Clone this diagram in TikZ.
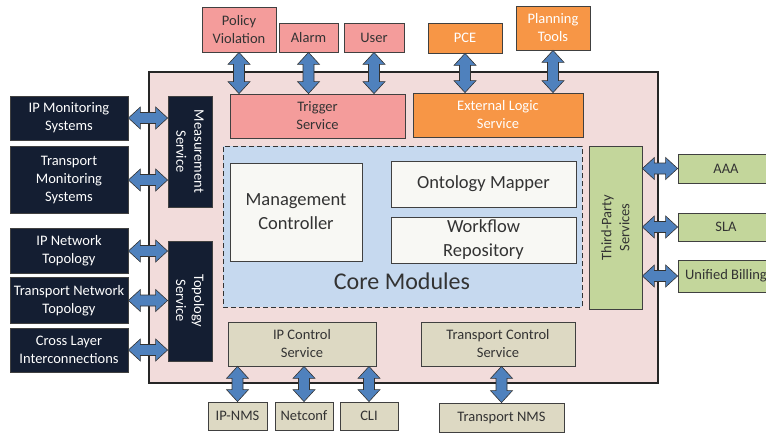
\documentclass[tikz,border=0pt]{standalone}
\usepackage{fontspec}
\setmainfont{Carlito}
\usetikzlibrary{calc}

\definecolor{framepink}{HTML}{F2DCDB}
\definecolor{trigpink}{HTML}{F49C9B}
\definecolor{extorange}{HTML}{F79646}
\definecolor{navy}{HTML}{141E32}
\definecolor{coreblue}{HTML}{C6D9EF}
\definecolor{modwhite}{HTML}{F8F8F4}
\definecolor{tpgreen}{HTML}{C3D69B}
\definecolor{ctltan}{HTML}{DDD9C3}
\definecolor{linkblue}{HTML}{4F81BD}

\newcommand{\vlink}[2]{%
  \draw[link] let \p1=(#1), \p2=(#2) in
    (\x1,\y1) -- (\x1+11pt,\y1-12pt) -- (\x1+5.5pt,\y1-12pt) -- (\x1+5.5pt,\y2+12pt)
    -- (\x1+11pt,\y2+12pt) -- (\x1,\y2) -- (\x1-11pt,\y2+12pt) -- (\x1-5.5pt,\y2+12pt)
    -- (\x1-5.5pt,\y1-12pt) -- (\x1-11pt,\y1-12pt) -- cycle;}
\newcommand{\hlink}[2]{%
  \draw[link] let \p1=(#1), \p2=(#2) in
    (\x1,\y1) -- (\x1+12pt,\y1+11pt) -- (\x1+12pt,\y1+5.5pt) -- (\x2-12pt,\y1+5.5pt)
    -- (\x2-12pt,\y1+11pt) -- (\x2,\y1) -- (\x2-12pt,\y1-11pt) -- (\x2-12pt,\y1-5.5pt)
    -- (\x1+12pt,\y1-5.5pt) -- (\x1+12pt,\y1-11pt) -- cycle;}

\begin{document}
\begin{tikzpicture}[x=1pt,y=-1pt,
  box/.style={draw=black!75,line width=.8pt,align=center,inner sep=1pt,
    font=\fontsize{14.5}{18}\selectfont},
  pinkbox/.style={box,fill=trigpink,text=black!80},
  orangebox/.style={box,fill=extorange,text=white},
  navybox/.style={box,fill=navy,text=white},
  modbox/.style={box,fill=modwhite,text=black!80,font=\fontsize{18.5}{24}\selectfont},
  greenbox/.style={box,fill=tpgreen,text=black!80},
  tanbox/.style={box,fill=ctltan,text=black!80},
  link/.style={fill=linkblue,draw=black!80,line width=.6pt,line join=miter}]

\useasboundingbox (0,0) rectangle (766,436);
\clip (0,0) rectangle (766,436);

\node[draw=black!85,line width=1.6pt,fill=framepink,minimum width=509,minimum height=311] (main) at (403.5,227.5) {};
\node[draw=black!80,line width=1pt,dashed,dash pattern=on 5pt off 3pt,fill=coreblue,minimum width=359,minimum height=161] (core) at (402.5,226.5) {};
\node[text=black!80,font=\fontsize{24}{28}\selectfont] (corelbl) at (402,281) {Core Modules};

% top
\node[pinkbox,minimum width=74,minimum height=45] (pv) at (239,29.5) {Policy\\Violation};
\node[pinkbox,minimum width=59,minimum height=29] (alarm) at (308.5,37.5) {Alarm};
\node[pinkbox,minimum width=60,minimum height=29] (user) at (374,37.5) {User};
\node[orangebox,minimum width=74,minimum height=30] (pce) at (465,38) {PCE};
\node[orangebox,minimum width=74,minimum height=44] (plan) at (553,28) {Planning\\Tools};
\node[pinkbox,minimum width=175,minimum height=44] (trig) at (317.5,116) {Trigger\\Service};
\node[orangebox,minimum width=170,minimum height=44] (ext) at (498,115) {External Logic\\Service};

% left
\node[navybox,minimum width=118,minimum height=44] (ipmon) at (69,118) {IP Monitoring\\Systems};
\node[navybox,minimum width=118,minimum height=67] (tmon) at (69,180) {Transport\\Monitoring\\Systems};
\node[navybox,minimum width=118,minimum height=45] (ipnet) at (69,251) {IP Network\\Topology};
\node[navybox,minimum width=118,minimum height=46] (tnet) at (69,300.5) {Transport Network\\Topology};
\node[navybox,minimum width=118,minimum height=44] (cross) at (69,350) {Cross Layer\\Interconnections};
\node[navybox,rotate=-90,minimum width=111,minimum height=44] (meas) at (190,151.5) {Measurement\\Service};
\node[navybox,rotate=-90,minimum width=120,minimum height=44] (topo) at (190,301) {Topology\\Service};

% core modules
\node[modbox,minimum width=132,minimum height=98] (mc) at (296,212) {Management\\Controller};
\node[modbox,minimum width=185,minimum height=46] (onto) at (483.5,184) {Ontology Mapper};
\node[modbox,minimum width=185,minimum height=46] (wf) at (483.5,240) {Workflow\\Repository};

% right
\node[greenbox,rotate=90,minimum width=163,minimum height=53] (third) at (615.5,227.5) {Third-Party\\Services};
\node[greenbox,minimum width=96,minimum height=29] (aaa) at (726,168.5) {AAA};
\node[greenbox,minimum width=96,minimum height=28] (sla) at (726,227) {SLA};
\node[greenbox,minimum width=96,minimum height=32] (bill) at (726,276) {Unified Billing};

% bottom
\node[tanbox,minimum width=148,minimum height=44] (ipc) at (302,344) {IP Control\\Service};
\node[tanbox,minimum width=154,minimum height=44] (tpc) at (498,344) {Transport Control\\Service};
\node[tanbox,minimum width=59,minimum height=28] (ipnms) at (237.5,416) {IP-NMS};
\node[tanbox,minimum width=58,minimum height=28] (netconf) at (304,416) {Netconf};
\node[tanbox,minimum width=58,minimum height=28] (cli) at (369,416) {CLI};
\node[tanbox,minimum width=125,minimum height=29] (tnms) at (501.5,417.5) {Transport NMS};

\foreach \a/\b in {pv/trig,alarm/trig,user/trig,pce/ext,plan/ext}
{\vlink{\a.south}{\a.south |- \b.north}}
\foreach \a/\b in {ipnms/ipc,netconf/ipc,cli/ipc,tnms/tpc}
{\vlink{\a.north |- \b.south}{\a.north}}
\foreach \a/\b in {ipmon/meas,tmon/meas,ipnet/topo,tnet/topo,cross/topo}
{\hlink{\a.east}{\b.south}}
\foreach \a in {aaa,sla,bill}
{\hlink{third.south |- \a.west}{\a.west}}

\end{tikzpicture}
\end{document}
